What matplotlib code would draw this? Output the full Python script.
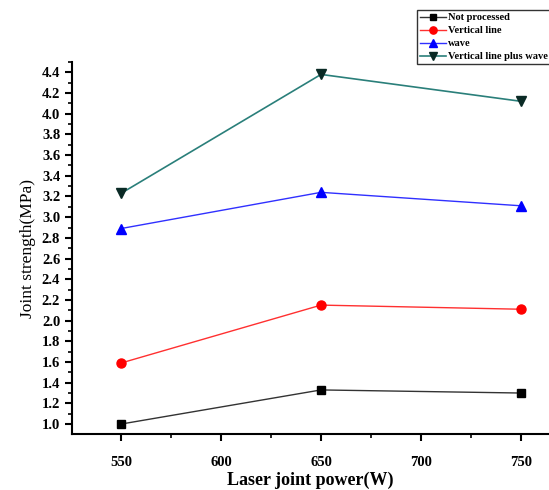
import numpy as np
import matplotlib.pyplot as plt
from matplotlib.ticker import MultipleLocator

# Joint strength vs laser power for each surface treatment
power = [550, 650, 750]
not_processed = [1.00, 1.33, 1.30]
vertical_line = [1.59, 2.15, 2.11]
wave = [2.89, 3.24, 3.11]
vertical_wave = [3.23, 4.38, 4.12]
labels = ['Not processed', 'Vertical line', 'wave', 'Vertical line plus wave']

plt.rcParams['font.family'] = ['Liberation Serif', 'DejaVu Serif']

fig = plt.figure(figsize=(5.49, 4.90), dpi=100)
ax = fig.add_axes([72 / 549, 56 / 490, 1 - 72 / 549, (434 - 62) / 490])

ax.plot(power, not_processed, color='#333333', lw=1, marker='s', ms=6,
        mfc='black', mec='black', label=labels[0])
ax.plot(power, vertical_line, color='#ff3030', lw=1, marker='o', ms=6.5,
        mfc='red', mec='red', label=labels[1])
ax.plot(power, wave, color='#3030ff', lw=1, marker='^', ms=7,
        mfc='blue', mec='blue', label=labels[2])
ax.plot(power, vertical_wave, color='#2a7f7a', lw=1.2, marker='v', ms=7,
        mfc='#0a2a25', mec='#0a2a25', label=labels[3])

ax.set_xlim(525.5, 764)
ax.set_ylim(0.904, 4.5)
ax.xaxis.set_major_locator(MultipleLocator(50))
ax.xaxis.set_minor_locator(MultipleLocator(25))
ax.yaxis.set_major_locator(MultipleLocator(0.2))
ax.yaxis.set_minor_locator(MultipleLocator(0.1))
ax.yaxis.set_major_formatter(plt.FormatStrFormatter('%.1f'))

for s in ['top', 'right']:
    ax.spines[s].set_visible(False)
for s in ['left', 'bottom']:
    ax.spines[s].set_linewidth(1.5)
ax.tick_params(which='major', direction='out', length=5, width=1.5,
               labelsize=10.5)
ax.tick_params(axis='x', which='major', pad=11)
ax.tick_params(which='minor', direction='out', length=3, width=1.2)
for t in ax.get_xticklabels() + ax.get_yticklabels():
    t.set_fontweight('bold')

ax.set_xlabel('Laser joint power(W)', fontsize=13, fontweight='bold')
ax.xaxis.set_label_coords(0.5, -0.1)
ax.set_ylabel('Joint strength(MPa)', fontsize=12.5, labelpad=4)

leg = ax.legend(loc='upper left', bbox_to_anchor=(417 / 549, 1 - 10 / 490),
                bbox_transform=fig.transFigure, frameon=True, fancybox=False,
                prop={'weight': 'bold', 'size': 7.5}, handlelength=2.5,
                handletextpad=0.2, labelspacing=0.35, borderpad=0.3,
                borderaxespad=0, markerscale=0.8)
leg.get_frame().set_edgecolor('black')
leg.get_frame().set_linewidth(1)

fig.savefig('out.png', dpi=100)
